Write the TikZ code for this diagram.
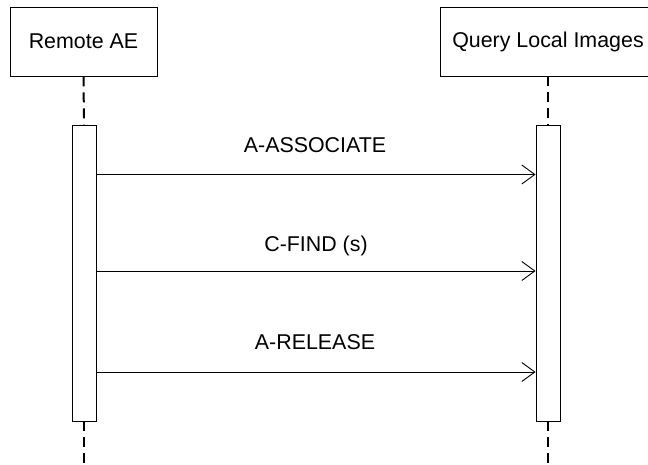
\documentclass[tikz,border=0pt]{standalone}
\usepackage{fontspec}
\setmainfont{Liberation Sans}
\usetikzlibrary{arrows.meta}
\begin{document}
\begin{tikzpicture}[x=1pt,y=-1pt,
  actor/.style={draw, line width=0.9pt, inner sep=0pt, font=\fontsize{21.4}{24}\selectfont},
  actbar/.style={draw, line width=0.9pt, fill=white, inner sep=0pt, minimum width=24pt, minimum height=296pt},
  lifeline/.style={line width=2pt, dash pattern=on 10pt off 6pt},
  msg/.style={line width=0.9pt, -{Straight Barb[length=13pt,width=19pt,line width=0.9pt]}},
  lbl/.style={anchor=base, inner sep=0pt, font=\fontsize{21.4}{24}\selectfont}]
\clip (0,0) rectangle (648,465);
\fill[white] (0,0) rectangle (648,465);
% actors
\node[actor, minimum width=147pt, minimum height=69pt] (ra) at (83.5,41.5) {Remote AE};
\node[actor, minimum width=216pt, minimum height=69pt] (ql) at (548,41.5) {Query Local Images};
% activation bars
\node[actbar] (rab) at (84,273) {};
\node[actbar] (qlb) at (548,273) {};
% lifeline ends
\coordinate (raend) at (84,470);
\coordinate (qlend) at (548,470);
\draw[lifeline] (ra.south) -- (rab.north);
\draw[lifeline] (qlb.south) -- (qlend);
\draw[lifeline] (rab.south) -- (raend);
\draw[lifeline] (ql.south) -- (qlb.north);
% messages
\coordinate (m1s) at (rab.east |- 0,174.5);
\coordinate (m1e) at (qlb.west |- 0,174.5);
\coordinate (m2s) at (rab.east |- 0,271);
\coordinate (m2e) at (qlb.west |- 0,271);
\coordinate (m3s) at (rab.east |- 0,372);
\coordinate (m3e) at (qlb.west |- 0,372);
\draw[msg] (m1s) -- (m1e);
\draw[msg] (m2s) -- (m2e);
\draw[msg] (m3s) -- (m3e);
\node[lbl] (l1) at (315,152.3) {A-ASSOCIATE};
\node[lbl] (l2) at (316,251.5) {C-FIND (s)};
\node[lbl] (l3) at (315,349) {A-RELEASE};
\end{tikzpicture}
\end{document}
